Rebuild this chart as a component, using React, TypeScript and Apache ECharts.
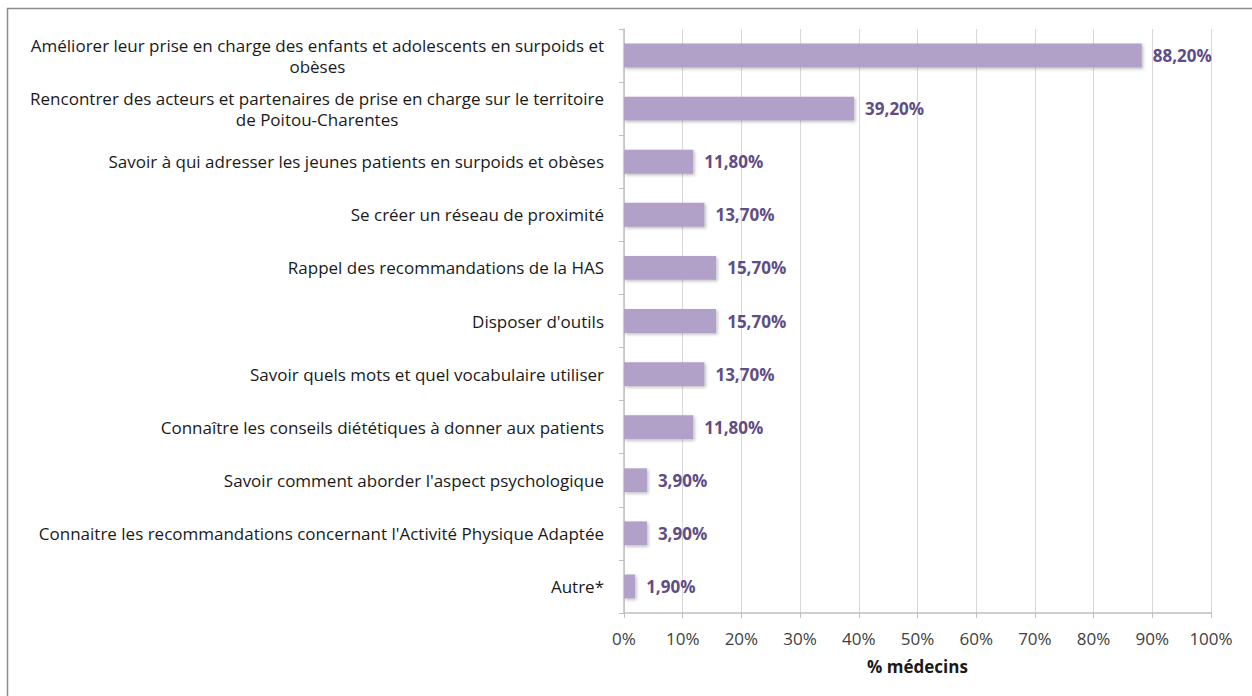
import React, { useEffect, useRef } from "react";
import * as echarts from "echarts";

const categories = [
  "Améliorer leur prise en charge des enfants et adolescents en surpoids et\nobèses",
  "Rencontrer des acteurs et partenaires de prise en charge sur le territoire\nde Poitou-Charentes",
  "Savoir à qui adresser les jeunes patients en surpoids et obèses",
  "Se créer un réseau de proximité",
  "Rappel des recommandations de la HAS",
  "Disposer d'outils",
  "Savoir quels mots et quel vocabulaire utiliser",
  "Connaître les conseils diététiques à donner aux patients",
  "Savoir comment aborder l'aspect psychologique",
  "Connaitre les recommandations concernant l'Activité Physique Adaptée",
  "Autre*",
];

const values = [88.2, 39.2, 11.8, 13.7, 15.7, 15.7, 13.7, 11.8, 3.9, 3.9, 1.9];

const xTicks = [0, 10, 20, 30, 40, 50, 60, 70, 80, 90, 100];
const xAxisName = "% médecins";

export default function App() {
  const ref = useRef<HTMLDivElement>(null);
  useEffect(() => {
    if (!ref.current) return;
    const chart = echarts.init(ref.current, null, { renderer: "svg" });
    const font = "'Open Sans', 'Noto Sans', sans-serif";
    const fs = 17;
    chart.setOption({
      animation: false,
      backgroundColor: "#ffffff",
      textStyle: { fontFamily: font },
      graphic: [
        {
          type: "polyline",
          shape: { points: [[7.5, 700], [7.5, 8.5], [1260, 8.5]] },
          style: { stroke: "#8c8c8c", lineWidth: 1.5, fill: "none" },
          silent: true,
        },
      ],
      grid: { left: 624, right: 41, top: 29, bottom: 83, containLabel: false },
      xAxis: {
        type: "value",
        min: xTicks[0],
        max: xTicks[xTicks.length - 1],
        interval: 10,
        name: xAxisName,
        nameLocation: "middle",
        nameGap: 45,
        nameTextStyle: { fontFamily: font, fontSize: fs, fontWeight: "bold", color: "#1a1a1a" },
        axisLine: { show: true, lineStyle: { color: "#bfbfbf", width: 1.5 } },
        axisTick: { show: true, length: 5, lineStyle: { color: "#bfbfbf" } },
        axisLabel: {
          margin: 17,
          fontFamily: font,
          fontSize: fs,
          color: "#404040",
          formatter: (v: number) => `${v}%`,
        },
        splitLine: { show: true, lineStyle: { color: "#d9d9d9", width: 1 } },
      },
      yAxis: {
        type: "category",
        inverse: true,
        data: categories,
        axisLine: { show: true, lineStyle: { color: "#bfbfbf", width: 1.5 } },
        axisTick: { show: true, length: 5, alignWithLabel: false, lineStyle: { color: "#bfbfbf" } },
        axisLabel: {
          margin: 20,
          fontFamily: font,
          fontSize: fs,
          color: "#1a1a1a",
          lineHeight: 21,
          formatter: (v: string) =>
            v.includes("\n")
              ? v
                  .split("\n")
                  .map((l) => `{c|${l}}`)
                  .join("\n")
              : v,
          rich: {
            c: { align: "center", fontFamily: font, fontSize: fs, color: "#1a1a1a", lineHeight: 21 },
          },
        },
      },
      series: [
        {
          type: "bar",
          data: values,
          barWidth: "45%",
          itemStyle: {
            color: "#b1a0c7",
            shadowBlur: 3,
            shadowOffsetX: 1.5,
            shadowOffsetY: 1.5,
            shadowColor: "rgba(0,0,0,0.25)",
          },
          label: {
            show: true,
            position: "right",
            distance: 11,
            fontFamily: font,
            fontSize: fs,
            fontWeight: "bold",
            color: "#5f4d85",
            formatter: (p: any) => `${p.value.toFixed(2).replace(".", ",")}%`,
          },
        },
      ],
    });
    return () => chart.dispose();
  }, []);
  return (
    <div
      ref={ref}
      style={{ position: "absolute", left: 0, top: 0, width: 1252, height: 696 }}
    />
  );
}
